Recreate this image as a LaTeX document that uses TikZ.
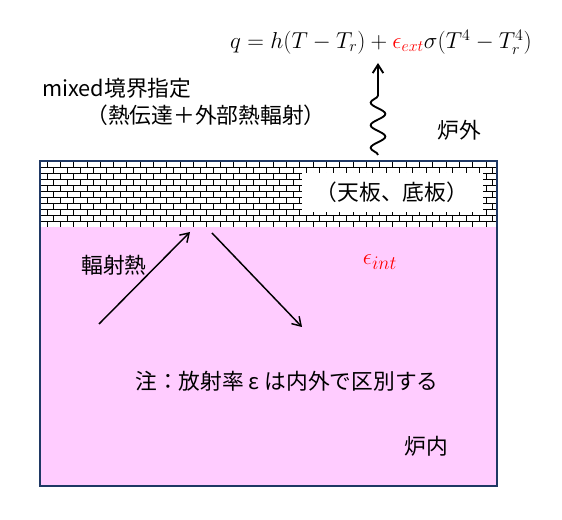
\documentclass[tikz,border=0pt]{standalone}
\usepackage{fontspec}
\setmainfont{Noto Sans CJK JP}
\usepackage{xcolor}
\usepackage{tikz}
\usetikzlibrary{arrows.meta,decorations.pathmorphing}
\definecolor{rosa}{RGB}{255,204,255}
\definecolor{marinho}{RGB}{31,56,100}
\tikzset{
    rotulo/.style={
        inner sep=0pt,
        font=\fontsize{16.3}{19}\selectfont
    },
    raio/.style={-{Straight Barb[length=2.2mm,width=2.8mm]}, line width=1.1pt},
    onda/.style={
        decorate,
        line width=1.4pt,
        decoration={snake, amplitude=5.5pt, segment length=17pt, post length=18pt}
    },
    tijolo/.style={line width=0.6pt},
    placa/.style={rotulo, fill=white, minimum width=135.75pt, minimum height=29pt}
}

\begin{document}
\begin{tikzpicture}[x=0.75pt,y=-0.75pt]
    \useasboundingbox (0,0) rectangle (562,520);

    \fill[rosa] (40,227) rectangle (497,486);

    \begin{scope}
        \clip (40,161) rectangle (497,227);
        \foreach \k in {0,...,11} {
            \draw[tijolo] (40,161+6*\k) -- (497,161+6*\k);
            \pgfmathsetmacro\desl{mod(\k,2)*6.65}
            \foreach \j in {-1,...,35}
                \draw[tijolo] (47+\desl+13.3*\j,161+6*\k) -- ++(0,6);
        }
    \end{scope}

    \node[placa] (placas) at (392,192.5) {（天板、底板）};

    \draw[marinho, line width=1pt] (40,161) rectangle (497,486);

    \node[rotulo, font=\fontsize{17.3}{20}\selectfont] (formula) at (381,42)
    {$q = h(T-T_r) + {\color{red}\epsilon_{ext}}\sigma(T^4-T_r^4)$};

    \node[rotulo, anchor=west] (mixed) at (42,88) {mixed境界指定};
    \node[rotulo] (modo) at (206,115) {（熱伝達＋外部熱輻射）};
    \node[rotulo] (fora) at (459,130) {炉外};
    \node[rotulo] (rad) at (114,265) {輻射熱};
    \node[rotulo, font=\fontsize{19}{22}\selectfont] (eint) at (380,262)
    {$\color{red}\epsilon_{int}$};
    \node[rotulo] (nota) at (287,381) {注：放射率 ε は内外で区別する};
    \node[rotulo] (dentro) at (426,446) {炉内};

    \coordinate (w0) at (378,155);
    \coordinate (w1) at (378,63);
    \coordinate (r1a) at (99,324);
    \coordinate (r1b) at (190,232);
    \coordinate (r2a) at (212,233);
    \coordinate (r2b) at (302,327);

    \draw[raio, onda] (w0) -- (w1);
    \draw[raio] (r1a) -- (r1b);
    \draw[raio] (r2a) -- (r2b);

\end{tikzpicture}
\end{document}
